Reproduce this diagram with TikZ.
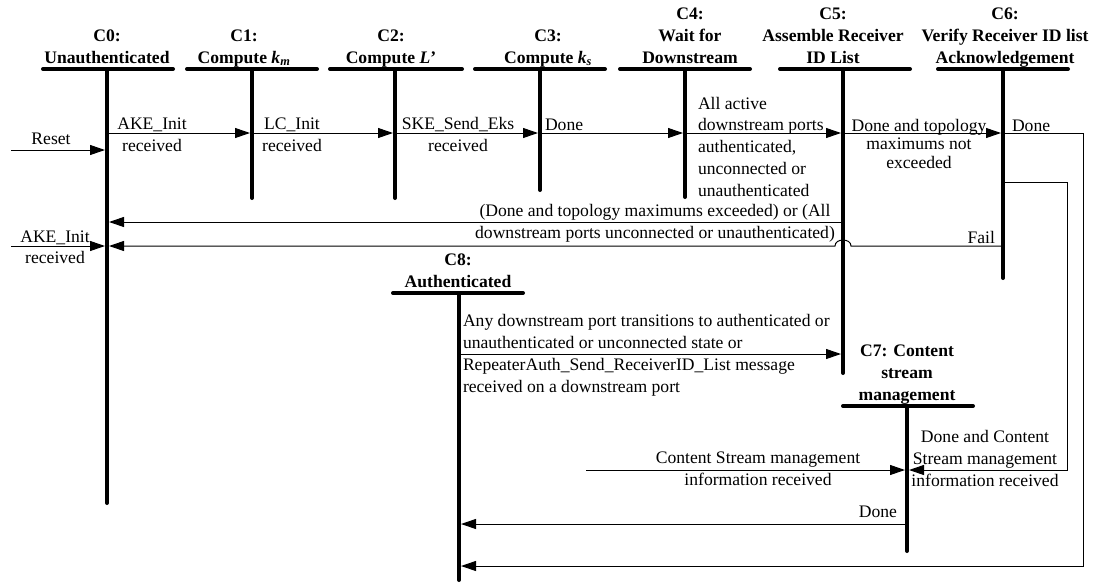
\documentclass[tikz,border=0pt]{standalone}
\usepackage{fontspec}
\setmainfont{Liberation Serif}
\usetikzlibrary{arrows.meta}
\begin{document}
\begin{tikzpicture}[x=1pt,y=-1pt,
  every node/.style={inner sep=0pt, outer sep=0pt, font=\fontsize{17.6}{22}\selectfont},
  hdr/.style={align=center, anchor=base, font=\fontsize{17.6}{22}\selectfont\bfseries},
  bar/.style={line width=4pt, line cap=round},
  life/.style={line width=4pt, line cap=round},
  msg/.style={line width=1pt, -{Triangle[length=15pt,width=10pt]}, shorten >=2pt},
  lbl/.style={align=center, anchor=base},
  lbll/.style={align=left, anchor=base west},
  lblr/.style={align=right, anchor=base east},
]
\useasboundingbox (0,0) rectangle (1097,584);
% ---------- state headers (anchor = baseline of last line) ----------
\node[hdr] (h0) at (107,63) {C0:\\Unauthenticated};
\node[hdr] (h1) at (244,63) {C1:\\Compute \textit{k}\textsubscript{\textit{m}}};
\node[hdr] (h2) at (391,63) {C2:\\Compute \textit{L}’};
\node[hdr] (h3) at (548,63) {C3:\\Compute \textit{k}\textsubscript{\textit{s}}};
\node[hdr] (h4) at (690,63) {C4:\\Wait for\\Downstream};
\node[hdr] (h5) at (833,63) {C5:\\Assemble Receiver\\ID List};
\node[hdr] (h6) at (1005,63) {C6:\\Verify Receiver ID list\\Acknowledgement};
\node[hdr] (h8) at (458,287) {C8:\\Authenticated};
\node[hdr] (h7) at (907,400) {C7: Content\\stream\\management};
% ---------- bars ----------
\draw[bar] (43,69) -- (173,69);
\draw[bar] (187,69) -- (317,69);
\draw[bar] (330,69) -- (462,69);
\draw[bar] (475,69) -- (605,69);
\draw[bar] (620,69) -- (750,69);
\draw[bar] (780,69) -- (910,69);
\draw[bar] (938,69) -- (1068,69);
\draw[bar] (393,293) -- (523,293);
\draw[bar] (843,406) -- (973,406);
% ---------- lifelines ----------
\coordinate (c0) at (107,69);   \coordinate (c0e) at (107,503);
\coordinate (c1) at (252,69);   \coordinate (c1e) at (252,198);
\coordinate (c2) at (395,69);   \coordinate (c2e) at (395,198);
\coordinate (c3) at (540,69);   \coordinate (c3e) at (540,190);
\coordinate (c4) at (685,69);   \coordinate (c4e) at (685,197);
\coordinate (c5) at (843,69);   \coordinate (c5e) at (843,373);
\coordinate (c6) at (1003,69);  \coordinate (c6e) at (1003,278);
\coordinate (c8) at (459,293);  \coordinate (c8e) at (459,580);
\coordinate (c7) at (907,406);  \coordinate (c7e) at (907,551);
\foreach \s in {c0,c1,c2,c3,c4,c5,c6,c8,c7} \draw[life] (\s) -- (\s e);
% ---------- levels and free ends ----------
\coordinate (yA) at (0,133);
\coordinate (yR) at (0,150);
\coordinate (yI) at (0,182);
\coordinate (yB) at (0,222);
\coordinate (yF) at (0,246);
\coordinate (yD) at (0,354);
\coordinate (yS) at (0,470);
\coordinate (yE) at (0,524);
\coordinate (yZ) at (0,566);
\coordinate (reset) at (11,150);
\coordinate (akeL) at (11,246);
\coordinate (csm) at (586,470);
\coordinate (outR) at (1083,0);
\coordinate (inR) at (1067,0);
\coordinate (hopR) at (851,246);
\coordinate (hopL) at (835,246);
% ---------- connectors ----------
\draw[msg] (reset) -- (c0 |- yR);
\draw[msg] (c0 |- yA) -- (c1 |- yA);
\draw[msg] (c1 |- yA) -- (c2 |- yA);
\draw[msg] (c2 |- yA) -- (c3 |- yA);
\draw[msg] (c3 |- yA) -- (c4 |- yA);
\draw[msg] (c4 |- yA) -- (c5 |- yA);
\draw[msg] (c5 |- yA) -- (c6 |- yA);
\draw[msg] (c5 |- yB) -- (c0 |- yB);
\draw[msg] (akeL) -- (c0 |- yF);
\draw[msg] (c6 |- yF) -- (hopR) .. controls +(0,-8) and +(0,-8) .. (hopL) -- (c0 |- yF);
\draw[msg] (c8 |- yD) -- (c5 |- yD);
\draw[msg] (csm) -- (c7 |- yS);
\draw[msg] (c6 |- yI) -- (inR |- yI) -- (inR |- yS) -- (c7 |- yS);
\draw[msg] (c7 |- yE) -- (c8 |- yE);
\draw[msg] (c6 |- yA) -- (outR |- yA) -- (outR |- yZ) -- (c8 |- yZ);
% ---------- labels (anchor = baseline of last line) ----------
\node[lbl] (lReset) at (51,144) {Reset};
\node[lbl] (l01) at (152,151) {AKE\_Init\\received};
\node[lbl] (l12) at (292,151) {LC\_Init\\received};
\node[lbl] (l23) at (458,151) {SKE\_Send\_Eks\\received};
\node[lbll] (l34) at (545,130) {Done};
\node[lbll, font=\fontsize{17.6}{21.7}\selectfont] (l45) at (698,196) {All active\\downstream ports\\authenticated,\\unconnected or\\unauthenticated};
\node[lbl, font=\fontsize{17.6}{18.5}\selectfont] (l56) at (919,168) {Done and topology\\maximums not\\exceeded};
\node[lbll] (l68) at (1012,131) {Done};
\node[lbl] (l50) at (655,238) {(Done and topology maximums exceeded) or (All\\downstream ports unconnected or unauthenticated)};
\node[lbl, font=\fontsize{17.6}{21}\selectfont] (lake) at (55,263) {AKE\_Init\\received};
\node[lblr] (lfail) at (995,243) {Fail};
\node[lbll, font=\fontsize{17.6}{21.7}\selectfont] (l85) at (463,392) {Any downstream port transitions to authenticated or\\unauthenticated or unconnected state or\\RepeaterAuth\_Send\_ReceiverID\_List message\\received on a downstream port};
\node[lbl] (lcsm) at (758,485) {Content Stream management\\information received};
\node[lbl] (l67) at (985,486) {Done and Content\\Stream management\\information received};
\node[lblr] (l78) at (897,517) {Done};
\end{tikzpicture}
\end{document}
